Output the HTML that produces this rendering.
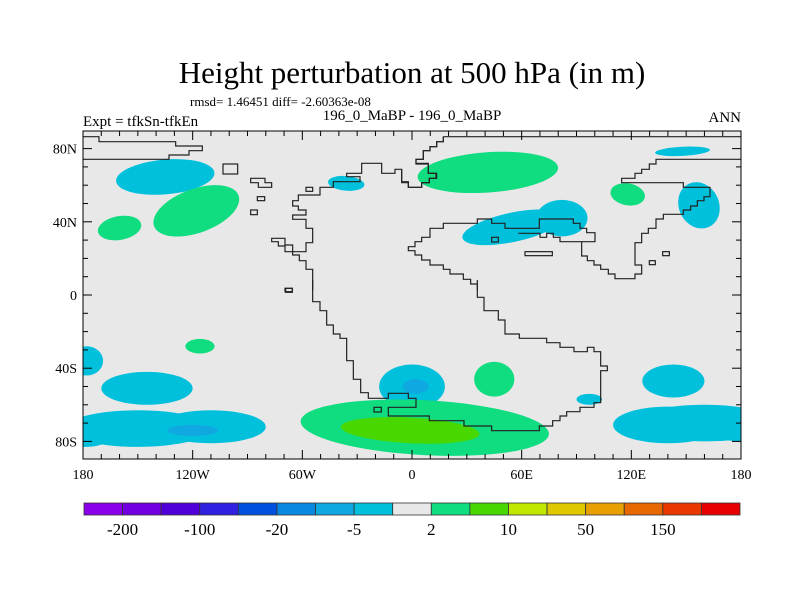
<!DOCTYPE html>
<html><head><meta charset="utf-8"><style>
body{margin:0;background:#fff;}
svg{display:block;font-family:"Liberation Serif",serif;}
</style></head><body>
<svg id="chart" width="800" height="600" viewBox="0 0 800 600" xmlns="http://www.w3.org/2000/svg">
<defs><clipPath id="plotclip"><rect x="83" y="131" width="658" height="328"/></clipPath></defs>
<text x="412" y="83" font-size="31" text-anchor="middle">Height perturbation at 500 hPa (in m)</text>
<text x="190" y="106" font-size="13">rmsd= 1.46451 diff= -2.60363e-08</text>
<text x="83" y="126" font-size="15">Expt = tfkSn-tfkEn</text>
<text x="412" y="120" font-size="15" text-anchor="middle">196_0_MaBP - 196_0_MaBP</text>
<text x="741" y="122" font-size="15" text-anchor="end">ANN</text>
<rect x="83" y="131" width="658" height="328" fill="#e8e8e8"/>
<g id="fills" clip-path="url(#plotclip)"></g>
<g clip-path="url(#plotclip)" fill="none" stroke="#222" stroke-linejoin="miter">
 <g transform="translate(83,130) scale(0.33333)" stroke-width="3.6">
  <polyline points="0,20 48,20 48,35 278,35 278,48 358,48 358,62 318,62 318,75 258,75 258,88 0,88"/>
  <rect x="420" y="102" width="44" height="30"/>
 </g>
 <g transform="translate(220,130) scale(0.33333)" stroke-width="3.6">
  <polyline points="670,20 670,35 650,35 650,50 630,50 630,62 610,62 610,88 588,88 588,100 625,100 625,130 650,130 650,145 628,145 628,158 605,158 605,172 565,172 565,155 545,155 545,118 525,118 525,130 485,130 485,100 425,100 425,130 380,130 380,140 420,140 420,155 340,155 340,172 300,172 300,195 235,195 235,212 218,212 218,228 235,228 235,240 258,240 258,255 218,255 218,268 258,268 258,295 278,295 278,338 258,338 258,365 218,365 218,345 195,345 195,325 155,325 155,335 175,335 175,348 195,348 195,365 218,365 218,375 238,375 238,392 258,392 258,418 278,418 278,480"/>
  <polygon points="92,145 135,145 135,158 155,158 155,172 115,172 115,158 92,158"/>
  <rect x="258" y="172" width="20" height="12"/><rect x="112" y="200" width="22" height="12"/><rect x="92" y="240" width="20" height="14"/><rect x="195" y="475" width="22" height="10"/>
 </g>
 <g transform="translate(400,130) scale(0.33333)" stroke-width="3.6">
  <polyline points="130,20 1030,20"/>
  <polyline points="130,20 130,35 110,35 110,50 90,50 90,62 70,62 70,88 48,88 48,102 85,102 85,130 108,130 108,145 88,145 88,158 65,158 65,172 25,172 25,158 5,158 5,118"/>
  <polyline points="110,295 90,295 90,322 65,322 65,335 45,335 45,350 25,350 25,362 45,362 45,375 65,375 65,390 90,390 90,405 130,405 130,418 150,418 150,432 190,432 190,448 212,448 212,462 232,462 232,480"/>
  <polyline points="110,295 130,295 130,280 232,280 232,267 275,267 275,280 315,280 315,295 418,295 418,267 520,267 520,280 540,280 540,295 560,295 560,308 585,308 585,335 545,335 545,378 562,378 562,392 582,392 582,405 602,405 602,418 625,418 625,432 645,432 645,446 705,446 705,432 725,432 725,405 705,405 705,338 725,338 725,310 745,310 745,295 768,295 768,267 790,267 790,253 850,253 850,240 872,240 872,228 892,228 892,212 912,212 912,200 930,200 930,172 850,172 850,158 665,158 665,145 705,145 705,130 725,130 725,118 748,118 748,102 768,102 768,88 830,88 830,88 1030,88"/>
  <polyline points="355,310 420,310 420,322 440,322 440,310 460,310 460,322 480,322 480,335 545,335"/>
  <rect x="375" y="365" width="82" height="12"/><rect x="275" y="322" width="20" height="14"/><rect x="788" y="365" width="20" height="12"/><rect x="748" y="392" width="18" height="12"/>
 </g>
 <g transform="translate(270,280) scale(0.33333)" stroke-width="3.6">
  <polyline points="128,0 128,65 150,65 150,92 170,92 170,135 190,135 190,162 210,162 210,175 230,175 230,242 250,242 250,298 272,298 272,338 295,338 295,355 355,355 355,340 415,340 415,355 438,355 438,382 355,382 355,408 478,408 478,422 582,422 582,438 665,438 665,452 808,452 808,438 848,438 848,422 870,422 870,408 890,408 890,395 930,395 930,382 972,382 972,368 992,368 992,272 1012,272 1012,258 992,258 992,215 972,215 972,202 952,202 952,215 912,215 912,202 870,202 870,188 830,188 830,175 748,175 748,162 705,162 705,120 685,120 685,92 642,92 642,52 622,52 622,0"/>
  <rect x="47" y="25" width="20" height="12"/><rect x="312" y="382" width="22" height="14"/>
 </g>
</g>
<rect x="83" y="131" width="658" height="328" fill="none" stroke="#000" stroke-width="1"/>
<g id="axes" font-size="14"></g>
<g id="colorbar" font-size="17"></g>
<script>
// contour blobs: lon, lat (deg), half-widths (deg), rotation (deg), level
const blobLon = [-135, 55, 82, 148, -36, 157, -178, -145, 0, 2, 143, 97, -150, -110, -178, -120, 160, 140, 180, -118, -160, 41.5, -116, 118, 45, 7, -1];
const blobLat = [64.5, 37, 42, 78.5, 61, 49, -36, -51, -50, -50, -47, -57, -73, -72, -75, -74, -70, -71, -72, 46, 36.6, 67, -28, 55, -46, -72.5, -74];
const blobRx  = [27, 28, 14, 15, 10, 11, 9, 25, 18, 7, 17, 7, 40, 30, 15, 14, 40, 30, 20, 24.6, 12, 38.5, 8, 9.5, 11, 68, 38];
const blobRy  = [9.5, 8, 10, 2.5, 4, 13, 8, 9, 12, 4, 9, 3, 10, 9, 8, 3, 10, 10, 8, 12, 6.5, 11, 4, 6, 9.5, 15, 7];
const blobRot = [-5, -12, 0, -3, 5, -25, 0, 0, 0, 0, 0, 0, 0, 0, 0, 0, 0, 0, 0, -20, -10, -4, 0, 10, 0, 3, 3];
const blobLevel = [7, 7, 7, 7, 7, 7, 7, 7, 7, 6, 7, 7, 7, 7, 7, 6, 7, 7, 7, 9, 9, 9, 9, 9, 9, 9, 10];
// colorbar
const levelColors = ["#8a00e8","#7000e0","#5000d8","#3020e0","#0050e0","#0888e0","#10a8e0","#00c0dc","#e8e8e8","#10dc80","#48d800","#c0e800","#e0c800","#e8a000","#e86800","#e83800","#e80000"];
const cbLabels = ["-200","-100","-20","-5","2","10","50","150"];
const xTickLabels = ["180","120W","60W","0","60E","120E","180"];
const xTickLons = [-180,-120,-60,0,60,120,180];
const yTickLabels = ["80N","40N","0","40S","80S"];
const yTickLats = [80,40,0,-40,-80];
const NS="http://www.w3.org/2000/svg";
const xOf = lon => 412 + lon*658/360;
const yOf = lat => 295 - lat*1.83;
const sx = d => d*658/360, sy = d => d*1.83;
function mk(tag, attrs, parent){const e=document.createElementNS(NS,tag);for(const k in attrs)e.setAttribute(k,attrs[k]);parent.appendChild(e);return e;}
const fills=document.getElementById('fills');
const order = blobLon.map((_,i)=>i).sort((a,b)=>Math.abs(blobLevel[a]-8)-Math.abs(blobLevel[b]-8));
order.forEach(i=>{
  const cx=xOf(blobLon[i]), cy=yOf(blobLat[i]);
  const e=mk('ellipse',{cx:cx,cy:cy,rx:sx(blobRx[i]),ry:sy(blobRy[i]),fill:levelColors[blobLevel[i]],transform:`rotate(${blobRot[i]} ${cx} ${cy})`},fills);
  
  
});
const axes=document.getElementById('axes');
for(let lon=-180;lon<=180;lon+=10){
  const x=xOf(lon), major=lon%60===0, L=major?9:5;
  const t1=mk('line',{x1:x,x2:x,y1:459,y2:459-L,stroke:'#000'},axes);
  
  
  const t2=mk('line',{x1:x,x2:x,y1:131,y2:131+L,stroke:'#000'},axes);
  
  
}
for(let lat=-80;lat<=80;lat+=10){
  const y=yOf(lat), major=lat%40===0, L=major?9:5;
  const t1=mk('line',{x1:83,x2:83+L,y1:y,y2:y,stroke:'#000'},axes);
  
  
  const t2=mk('line',{x1:741,x2:741-L,y1:y,y2:y,stroke:'#000'},axes);
  
  
}
xTickLabels.forEach((s,i)=>{
  const t=mk('text',{x:xOf(xTickLons[i]),y:479,'text-anchor':'middle'},axes);t.textContent=s;
  
  
});
yTickLabels.forEach((s,i)=>{
  const t=mk('text',{x:77,y:yOf(yTickLats[i])+5,'text-anchor':'end'},axes);t.textContent=s;
  
  
});
const cb=document.getElementById('colorbar');
const cbX=84, cbW=656/levelColors.length;
levelColors.forEach((c,i)=>{
  const r=mk('rect',{x:cbX+i*cbW,y:503,width:cbW,height:12,fill:c,stroke:'#333','stroke-width':0.8},cb);
  
  
});
cbLabels.forEach((s,i)=>{
  const t=mk('text',{x:cbX+(2*i+1)*cbW,y:535,'text-anchor':'middle'},cb);t.textContent=s;
  
  
});
</script>
</svg>
</body></html>
